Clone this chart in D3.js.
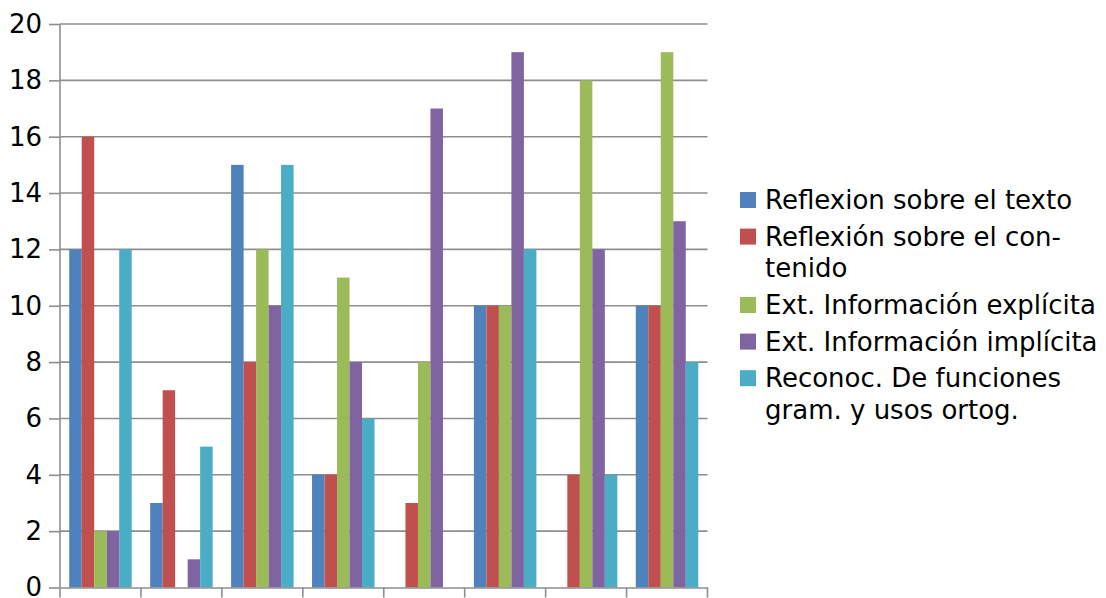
<!DOCTYPE html>
<html><head><meta charset="utf-8">
<script src="https://cdn.jsdelivr.net/npm/d3@7"></script>
<style>body{margin:0;background:#fff}svg{display:block;font-family:"DejaVu Sans",sans-serif}</style>
</head><body><svg id="c" width="1106" height="598"></svg>
<script>
const categories = ["1","2","3","4","5","6","7","8"];
const seriesNames = [
  ["Reflexion sobre el texto"],
  ["Reflexión sobre el con-","tenido"],
  ["Ext. Información explícita"],
  ["Ext. Información implícita"],
  ["Reconoc. De funciones","gram. y usos ortog."]
];
const colors = ["#4F81BD","#C0504D","#9BBB59","#8064A2","#4BACC6"];
const reflexionTexto    = [12, 3, 15, 4, 0, 10, 0, 10];
const reflexionContenido= [16, 7, 8, 4, 3, 10, 4, 10];
const extExplicita      = [2, 0, 12, 11, 8, 10, 18, 19];
const extImplicita      = [2, 1, 10, 8, 17, 19, 12, 13];
const reconocFunciones  = [12, 5, 15, 6, 0, 12, 4, 8];
const yTicks = [0,2,4,6,8,10,12,14,16,18,20];
const series = [reflexionTexto, reflexionContenido, extExplicita, extImplicita, reconocFunciones];

(function(){
const svg = d3.select("#c");
const pl = 60, pr = 707.5, pt = 24, pb = 587.5;
const x0 = d3.scaleBand().domain(categories).range([pl, pr]).padding(0);
const gw = x0.bandwidth();
const x1 = d3.scaleBand().domain(d3.range(series.length)).range([gw*0.114, gw*0.886]).padding(0);
const y = d3.scaleLinear().domain([0,20]).range([pb, pt]);
const grid = "#8e8e8e";

const ya = svg.append("g").attr("transform",`translate(${pl},0)`)
  .call(d3.axisLeft(y).tickValues(yTicks).tickSize(11).tickPadding(7).tickFormat(d3.format("d")));
ya.select(".domain").remove();
ya.selectAll("line").attr("stroke",grid).attr("stroke-width",1.6);
ya.selectAll("text").attr("font-size",26).attr("fill","#000").attr("font-family","DejaVu Sans");
svg.append("g").selectAll("line").data(yTicks.filter(d=>d>0)).join("line")
  .attr("x1",pl).attr("x2",pr).attr("y1",d=>y(d)).attr("y2",d=>y(d))
  .attr("stroke",grid).attr("stroke-width",1.6);

const groups = svg.append("g").selectAll("g").data(categories).join("g")
  .attr("transform",d=>`translate(${x0(d)},0)`);
groups.selectAll("rect").data((d,i)=>series.map((s,k)=>({k,v:s[i]}))).join("rect")
  .attr("x",d=>x1(d.k)).attr("width",x1.bandwidth())
  .attr("y",d=>y(d.v)).attr("height",d=>y(0)-y(d.v))
  .attr("fill",d=>colors[d.k]);

svg.append("line").attr("x1",pl).attr("x2",pl).attr("y1",pt).attr("y2",pb)
  .attr("stroke",grid).attr("stroke-width",1.6);
const xa = svg.append("g").attr("transform",`translate(0,${pb})`)
  .call(d3.axisBottom(x0).tickSize(0).tickFormat(""));
xa.select(".domain").attr("stroke",grid).attr("stroke-width",1.6);
xa.selectAll(".tick").remove();
const bounds = categories.map(c=>x0(c)).concat([pr]);
svg.append("g").selectAll("line").data(bounds).join("line")
  .attr("x1",d=>d).attr("x2",d=>d).attr("y1",pb).attr("y2",pb+10)
  .attr("stroke",grid).attr("stroke-width",1.6);

const lg = svg.append("g").attr("font-size",26).attr("fill","#000");
let by = 209;
seriesNames.forEach((lines,k)=>{
  lg.append("rect").attr("x",740).attr("y",by-17).attr("width",16).attr("height",16).attr("fill",colors[k]);
  lines.forEach((t,j)=>{
    lg.append("text").attr("x",765).attr("y",by+j*31.8).text(t);
  });
  by += (lines.length-1)*31.8 + 36.6;
});
})();
</script></body></html>
